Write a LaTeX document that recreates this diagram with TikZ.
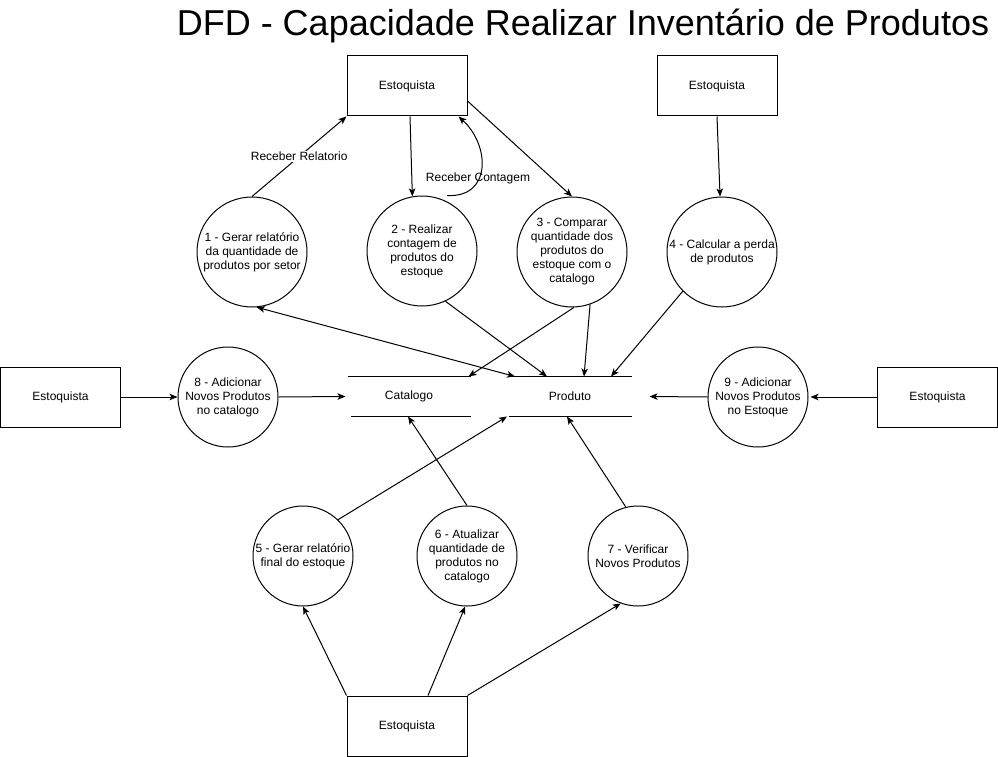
\documentclass[tikz,border=0pt]{standalone}
\usepackage{fontspec}
\setmainfont{Liberation Sans}
\usetikzlibrary{arrows.meta,calc}
\begin{document}
\begin{tikzpicture}[x=1pt,y=-1pt,line width=1pt,
  every node/.style={font=\fontsize{12}{14}\selectfont, align=center},
  proc/.style={draw, circle, inner sep=0pt, minimum size=110pt},
  procs/.style={draw, circle, inner sep=0pt, minimum size=100pt},
  ent/.style={draw, rectangle, minimum width=120pt, minimum height=60pt, inner sep=0pt},
  store/.style={rectangle, minimum width=122pt, minimum height=39pt, inner sep=0pt},
  flow/.style={-{Stealth[length=8pt,width=6.5pt,inset=2pt]}},
  bflow/.style={{Stealth[length=8pt,width=6.5pt,inset=2pt]}-{Stealth[length=8pt,width=6.5pt,inset=2pt]}}]
\path[use as bounding box, fill=white] (0,0) rectangle (998,757);

% title
\node[anchor=base, font=\fontsize{36}{43}\selectfont] (title) at (583,36) {DFD - Capacidade Realizar Inventário de Produtos};

% external entities
\node[ent] (e1) at (407,86) {Estoquista};
\node[ent] (e2) at (717,86) {Estoquista};
\node[ent] (eL) at (60.5,397) {Estoquista};
\node[ent] (eR) at (937.5,397) {Estoquista};
\node[ent] (eB) at (407,726) {Estoquista};

% processes
\node[proc] (c1) at (252,252) {1 - Gerar relatório\\da quantidade de\\produtos por setor};
\node[proc] (c2) at (422,251) {2 - Realizar\\contagem de\\produtos do\\estoque};
\node[proc] (c3) at (572,252) {3 - Comparar\\quantidade dos\\produtos do\\estoque com o\\catalogo};
\node[proc] (c4) at (722,252) {4 - Calcular a perda\\de produtos};
\node[procs] (c8) at (228,397) {8 - Adicionar\\Novos Produtos\\no catalogo};
\node[procs] (c9) at (758,397) {9 - Adicionar\\Novos Produtos\\no Estoque};
\node[procs] (c5) at (303,556) {5 - Gerar relatório\\final do estoque};
\node[procs] (c6) at (467,556) {6 - Atualizar\\quantidade de\\produtos no\\catalogo};
\node[procs] (c7) at (638,556) {7 - Verificar\\Novos Produtos};

% data stores
\node[store] (ca) at (409,396.5) {Catalogo};
\node[store] (pr) at (570,396.5) {Produto};
\draw (ca.north west) -- (ca.north east);
\draw ([xshift=3pt]ca.south west) -- (ca.south east);
\draw (pr.north west) -- (pr.north east);
\draw (pr.south west) -- (pr.south east);

% flows top
\draw[flow] (c1.north) -- node[fill=white, inner sep=1pt] (l1) {Receber Relatorio} (e1.south west);
\draw[flow] ([xshift=3pt]e1.south) -- (c2.100);
\draw[flow] ([xshift=25pt]c2.north) .. controls (492,198) and (490,145) .. ([xshift=-9pt]e1.south east);
\node (l2) at (478,178) {Receber Contagem};
\draw[flow] ([yshift=-15pt]e1.east) -- (c3.north);
\draw[flow] (e2.south) -- (c4.92);

% flows to stores
\draw[flow] (c4.225) -- ([xshift=41pt]pr.north);
\draw[flow] (c3.289) -- ([xshift=14pt]pr.north);
\draw[flow] (c3.272) -- ([xshift=-2pt]ca.north east);
\draw[flow] (c2.295) -- ([xshift=-23pt]pr.north);
\draw[bflow] (c1.275) -- ([xshift=-55pt]pr.north);

% middle row
\draw[flow] (eL.east) -- (c8.west);
\draw[flow] (c8.east) -- ([xshift=-2pt]ca.west);
\draw[flow] (c9.west) -- ([xshift=18pt]pr.east);
\draw[flow] (eR.west) -- ([xshift=2pt]c9.east);

% bottom
\draw[flow] (c5.46) -- ([xshift=-63pt]pr.south);
\draw[flow] (c6.north) -- ([xshift=-1pt]ca.south);
\draw[flow] (c7.104) -- ([xshift=-3pt]pr.south);
\draw[flow] (eB.north west) -- (c5.south);
\draw[flow] ([xshift=21pt]eB.north) -- (c6.268);
\draw[flow] (eB.north east) -- (c7.250);
\end{tikzpicture}
\end{document}
